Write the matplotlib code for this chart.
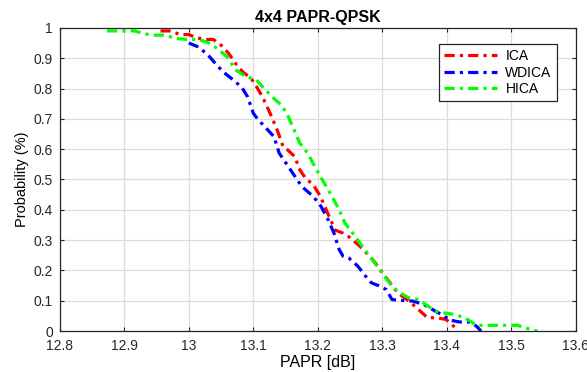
import matplotlib
matplotlib.use("Agg")
from matplotlib import pyplot as plt

plt.rcParams['font.family'] = ['Liberation Sans', 'DejaVu Sans']

ica_x = [12.956, 12.972, 12.986, 13.0, 13.012, 13.026, 13.038, 13.05, 13.062, 13.076,
         13.085, 13.095, 13.102, 13.114, 13.126, 13.137, 13.146, 13.152, 13.164, 13.172,
         13.181, 13.193, 13.204, 13.213, 13.222, 13.226, 13.239, 13.251, 13.265, 13.28,
         13.289, 13.3, 13.312, 13.324, 13.341, 13.353, 13.37, 13.385, 13.399, 13.408, 13.417]
ica_y = [0.99, 0.99, 0.978, 0.978, 0.967, 0.962, 0.962, 0.943, 0.915, 0.872,
         0.852, 0.837, 0.817, 0.773, 0.718, 0.663, 0.609, 0.6, 0.576, 0.532,
         0.504, 0.482, 0.444, 0.4, 0.356, 0.334, 0.323, 0.307, 0.28, 0.247,
         0.225, 0.192, 0.159, 0.126, 0.099, 0.077, 0.044, 0.044, 0.038, 0.022, 0.0]

wdica_x = [13.0, 13.015, 13.03, 13.041, 13.053, 13.068, 13.082, 13.091, 13.1, 13.108,
           13.12, 13.132, 13.14, 13.149, 13.161, 13.175, 13.193, 13.205, 13.216, 13.225,
           13.233, 13.239, 13.248, 13.262, 13.274, 13.283, 13.294, 13.306, 13.315, 13.324,
           13.347, 13.364, 13.382, 13.396, 13.405, 13.42, 13.434, 13.446, 13.453]
wdica_y = [0.95, 0.937, 0.91, 0.883, 0.855, 0.83, 0.804, 0.773, 0.718, 0.696,
           0.669, 0.641, 0.587, 0.559, 0.521, 0.477, 0.444, 0.411, 0.367, 0.323,
           0.269, 0.247, 0.241, 0.214, 0.181, 0.159, 0.15, 0.137, 0.104, 0.102,
           0.099, 0.088, 0.066, 0.049, 0.036, 0.03, 0.03, 0.016, 0.0]

hica_x = [12.873, 12.893, 12.916, 12.931, 12.943, 12.963, 12.98, 12.998, 13.015, 13.03,
          13.044, 13.059, 13.073, 13.085, 13.094, 13.105, 13.114, 13.129, 13.143, 13.152,
          13.161, 13.172, 13.184, 13.198, 13.21, 13.222, 13.233, 13.242, 13.254, 13.265,
          13.28, 13.292, 13.303, 13.315, 13.327, 13.341, 13.356, 13.367, 13.382, 13.396,
          13.411, 13.428, 13.446, 13.463, 13.486, 13.51, 13.521, 13.54]
hica_y = [0.99, 0.99, 0.99, 0.981, 0.976, 0.976, 0.965, 0.962, 0.962, 0.951,
          0.932, 0.905, 0.861, 0.844, 0.836, 0.828, 0.806, 0.773, 0.746, 0.718,
          0.674, 0.62, 0.587, 0.532, 0.488, 0.444, 0.4, 0.356, 0.323, 0.291,
          0.247, 0.214, 0.181, 0.148, 0.126, 0.11, 0.104, 0.088, 0.066, 0.06,
          0.055, 0.044, 0.019, 0.019, 0.019, 0.019, 0.011, 0.0]

fig = plt.figure(figsize=(5.87, 3.72), dpi=100)
ax = fig.add_axes([0.102, 0.11, 0.879, 0.815])

dash = (3.2, 1.6, 1.0, 1.6)
ax.plot(ica_x, ica_y, color='#ff0000', linestyle=(0, dash), linewidth=2.3, label='ICA')
ax.plot(wdica_x, wdica_y, color='#0000ff', linestyle=(0, dash), linewidth=2.3, label='WDICA')
ax.plot(hica_x, hica_y, color='#00ff00', linestyle=(0, dash), linewidth=2.3, label='HICA')

ax.set_xlim(12.8, 13.6)
ax.set_ylim(0, 1)
ax.set_xticks([12.8, 12.9, 13.0, 13.1, 13.2, 13.3, 13.4, 13.5, 13.6])
ax.set_xticklabels(['12.8', '12.9', '13', '13.1', '13.2', '13.3', '13.4', '13.5', '13.6'])
ax.set_yticks([0, 0.1, 0.2, 0.3, 0.4, 0.5, 0.6, 0.7, 0.8, 0.9, 1])
ax.set_yticklabels(['0', '0.1', '0.2', '0.3', '0.4', '0.5', '0.6', '0.7', '0.8', '0.9', '1'])
ax.tick_params(direction='in', top=True, right=True, labelsize=10, colors='#262626',
               length=3)
ax.tick_params(axis='x', pad=6)
ax.tick_params(axis='y', pad=5)
ax.grid(True, color='#dcdcdc', linewidth=0.9)
for s in ax.spines.values():
    s.set_color('#262626')
    s.set_linewidth(0.9)

ax.set_title('4x4 PAPR-QPSK', fontsize=11.5, fontweight='bold', pad=4)
ax.set_xlabel('PAPR [dB]', fontsize=11.5, labelpad=1)
ax.set_ylabel('Probability (%)', fontsize=10.5, labelpad=3)

leg = ax.legend(loc='upper right', bbox_to_anchor=(0.976, 0.97), fontsize=10,
                fancybox=False, framealpha=1, edgecolor='#262626',
                handlelength=3.8, handletextpad=0.6, borderpad=0.35, labelspacing=0.2)
leg.get_frame().set_linewidth(0.9)

fig.savefig('out.png', dpi=100)
